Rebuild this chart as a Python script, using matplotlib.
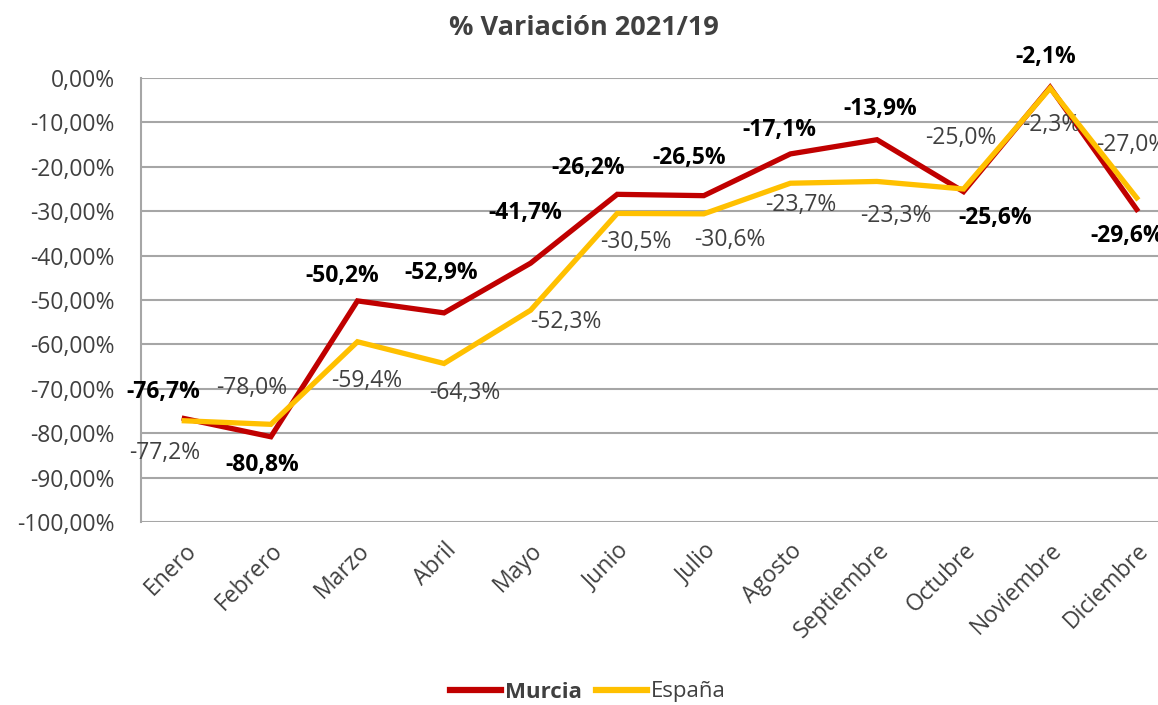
import matplotlib
matplotlib.use("Agg")
import matplotlib.pyplot as plt
from matplotlib.ticker import FuncFormatter
from matplotlib.lines import Line2D

months = ["Enero", "Febrero", "Marzo", "Abril", "Mayo", "Junio", "Julio",
          "Agosto", "Septiembre", "Octubre", "Noviembre", "Diciembre"]
murcia = [-76.7, -80.8, -50.2, -52.9, -41.7, -26.2, -26.5, -17.1, -13.9, -25.6, -2.1, -29.6]
espana = [-77.2, -78.0, -59.4, -64.3, -52.3, -30.5, -30.6, -23.7, -23.3, -25.0, -2.3, -27.0]
yticks = list(range(0, -101, -10))

# label offsets (pixels, x right / y up) relative to each point
murcia_off = [(-21, 27), (-9, -28), (-15, 25), (-3, 40), (-5, 50), (-29, 26),
              (-15, 38), (-11, 24), (3, 31), (32, -26), (-4, 30), (-10, -27)]
espana_off = [(-20, -32), (-19, 36), (9, -39), (21, -30), (35, -12), (19, -29),
              (26, -26), (10, -22), (19, -35), (-3, 51), (1, -37), (-5, 53)]

FONT = "Open Sans"
plt.rcParams['font.family'] = [FONT, 'DejaVu Sans']

W, H = 1158, 705
fig = plt.figure(figsize=(W / 100, H / 100), dpi=100)
left, right = 141, 1180
top, bottom = 78, 522
ax = fig.add_axes([left / W, (H - bottom) / H, (right - left) / W, (bottom - top) / H])

x = list(range(len(months)))
red = "#C00000"
yellow = "#FFC000"
ax.plot(x, murcia, color=red, lw=3.8, zorder=3, solid_joinstyle='miter', clip_on=False)
ax.plot(x, espana, color=yellow, lw=3.8, zorder=4, solid_joinstyle='miter', clip_on=False)

ax.set_xlim(-0.5, len(months) - 0.5)
ax.set_ylim(-100, 0)
ax.set_yticks(yticks)
ax.yaxis.set_major_formatter(FuncFormatter(lambda v, p: f"{v:.2f}%".replace(".", ",")))
ax.grid(axis='y', color="#A6A6A6", lw=1.5)
ax.set_axisbelow(True)
for s in ["top", "right", "bottom"]:
    ax.spines[s].set_visible(False)
ax.spines["left"].set_color("#A6A6A6")
ax.spines["left"].set_linewidth(1.5)
ax.tick_params(axis='y', length=0, pad=19, labelsize=16.5, labelcolor="#404040")
ax.tick_params(axis='x', length=0, pad=12, labelsize=16.5, labelcolor="#404040")
ax.set_xticks(x)
ax.set_xticklabels(months, rotation=45, ha='right', rotation_mode='anchor')

px = 72 / 100
for i, (m, e) in enumerate(zip(murcia, espana)):
    dx, dy = murcia_off[i]
    ax.annotate(f"{m:.1f}%".replace(".", ","), (i, m), xytext=(dx * px, dy * px),
                textcoords='offset points', ha='center', va='center',
                fontsize=16.5, fontweight='bold', color='black', annotation_clip=False)
    dx, dy = espana_off[i]
    ax.annotate(f"{e:.1f}%".replace(".", ","), (i, e), xytext=(dx * px, dy * px),
                textcoords='offset points', ha='center', va='center',
                fontsize=16.5, color='#404040', annotation_clip=False)

fig.text(584 / W, 1 - 28 / H, "% Variación 2021/19", ha='center', va='center',
         fontsize=19.5, fontweight='bold', color='#404040')

handles = [Line2D([], [], color=red, lw=4.5), Line2D([], [], color=yellow, lw=4.5)]
leg = fig.legend(handles, ["Murcia", "España"], loc='center', bbox_to_anchor=(588 / W, 1 - 692 / H),
                 ncol=2, frameon=False, fontsize=16, handlelength=2.3, handletextpad=0.2,
                 columnspacing=0.6, labelcolor='#404040')
leg.get_texts()[0].set_fontweight('bold')

fig.savefig("out.png", dpi=100)
